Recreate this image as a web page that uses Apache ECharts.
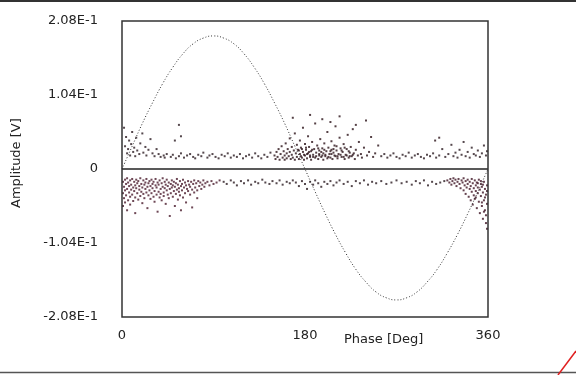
<!DOCTYPE html>
<html>
<head>
<meta charset="utf-8">
<script src="https://cdn.jsdelivr.net/npm/echarts@6/dist/echarts.min.js"></script>
<style>
html,body{margin:0;padding:0;background:#fff;}
#wrap{position:relative;width:576px;height:375px;}
#c,#f{position:absolute;left:0;top:0;width:576px;height:375px;}
#f{pointer-events:none;}
</style>
</head>
<body>
<div id="wrap"><div id="c"></div><div id="f"></div></div>
<script>
// ---- data (phase in degrees, amplitude in V) ----
var xTickLabels = ["0", "180", "360"];
var yTickLabels = ["-2.08E-1", "-1.04E-1", "0", "1.04E-1", "2.08E-1"];

var sinePhase = [0,10,20,30,40,50,60,70,80,90,100,110,120,130,140,150,160,170,180,190,200,210,220,230,240,250,260,270,280,290,300,310,320,330,340,350,360];
var sineValue = [0,0.032,0.064,0.093,0.120,0.143,0.162,0.176,0.184,0.187,0.184,0.176,0.162,0.143,0.120,0.093,0.064,0.032,0,-0.032,-0.063,-0.092,-0.118,-0.141,-0.159,-0.173,-0.181,-0.184,-0.181,-0.173,-0.159,-0.141,-0.118,-0.092,-0.063,-0.032,0];

var posLeft = [[2,0.058],[3,0.032],[4,0.045],[5,0.022],[6,0.028],[7,0.040],[8,0.019],[9,0.035],[10,0.052],[11,0.024],[12,0.030],[13,0.018],[14,0.044],[15,0.026],[17,0.021],[18,0.036],[20,0.050],[21,0.023],[23,0.031],[24,0.019],[26,0.027],[28,0.042],[30,0.022],[32,0.018],[34,0.028],[36,0.021],[38,0.017],[56,0.062],[52,0.040],[58,0.046]];

var posBand = [[41,0.019],[42,0.016],[44,0.021],[48,0.017],[50,0.020],[53,0.015],[56,0.018],[58,0.022],[61,0.016],[64,0.019],[67,0.021],[70,0.017],[72,0.015],[75,0.020],[78,0.018],[80,0.023],[84,0.016],[86,0.019],[89,0.021],[92,0.017],[95,0.015],[98,0.020],[101,0.018],[104,0.022],[107,0.016],[110,0.019],[113,0.017],[116,0.021],[119,0.015],[122,0.018],[125,0.020],[128,0.016],[131,0.022],[134,0.018],[137,0.015],[140,0.020],[143,0.017],[146,0.023],
[255,0.018],[258,0.021],[261,0.016],[264,0.019],[267,0.022],[270,0.017],[273,0.015],[276,0.020],[279,0.018],[282,0.023],[285,0.016],[288,0.019],[291,0.021],[294,0.017],[297,0.015],[300,0.020],[303,0.018],[306,0.022],[309,0.016],[312,0.019],[315,0.028],[318,0.017],[321,0.021],[324,0.034],[326,0.018],[328,0.023],[330,0.016],[332,0.027],[334,0.020],[336,0.038],[338,0.018],[340,0.024],[342,0.016],[344,0.030],[346,0.021],[348,0.019],[350,0.026],[352,0.017],[354,0.022],[356,0.033],[358,0.019],[359,0.025]];

var posCluster = [[150,0.019],[151,0.014],[152,0.024],[153,0.017],[154,0.028],[155,0.013],[156,0.021],[157,0.032],[158,0.016],[159,0.025],[160,0.019],[160,0.013],[161,0.036],[162,0.022],[162,0.015],[163,0.028],[164,0.018],[165,0.043],[165,0.024],[166,0.014],[167,0.031],[167,0.020],[168,0.016],[169,0.026],[170,0.050],[170,0.013],[171,0.022],[172,0.034],[172,0.017],[173,0.027],[174,0.014],[175,0.021],[175,0.040],[176,0.030],[177,0.016],[178,0.024],[178,0.058],[179,0.013],[180,0.019],[180,0.035],[181,0.027],[182,0.015],[183,0.022],[183,0.046],[184,0.031],[185,0.017],[186,0.025],[186,0.013],[187,0.038],[188,0.020],[189,0.028],[190,0.016],[190,0.064],[191,0.023],[192,0.033],[193,0.014],[194,0.026],[194,0.019],[195,0.042],[196,0.017],[197,0.029],[198,0.022],[198,0.013],[199,0.036],[200,0.018],[201,0.025],[202,0.052],[202,0.015],[203,0.030],[204,0.021],[205,0.016],[206,0.027],[206,0.039],[207,0.014],[208,0.023],[209,0.033],[210,0.018],[210,0.060],[211,0.026],[212,0.015],[213,0.021],[214,0.044],[215,0.029],[216,0.017],[217,0.024],[218,0.035],[219,0.014],[220,0.020],[221,0.028],[222,0.048],[223,0.016],[224,0.023],[225,0.031],[226,0.018],[227,0.056],[228,0.022],[229,0.014],[230,0.027],[232,0.019],[233,0.038],[235,0.021],[236,0.016],[238,0.030],[240,0.068],[241,0.019],[243,0.024],[245,0.045],[247,0.017],[249,0.022],[252,0.033],
[176,0.018],[179,0.020],[182,0.021],[185,0.019],[188,0.017],[191,0.018],[194,0.021],[197,0.019],[200,0.020],[203,0.017],[206,0.021],[209,0.019],[212,0.018],[215,0.020],[218,0.017],[221,0.019],[224,0.018],[227,0.020],[174,0.026],[177,0.028],[181,0.030],[184,0.024],[187,0.027],[193,0.029],[196,0.024],[199,0.027],[205,0.025],[208,0.028],[211,0.032],[216,0.026],[219,0.030],[223,0.025],[168,0.072],[185,0.076],[197,0.070],[205,0.066],[214,0.074],[230,0.062],[308,0.040],[312,0.044]];

var negLeft = [[1,-0.018],[1,-0.034],[1,-0.052],[2,-0.025],[2,-0.041],[3,-0.015],[3,-0.030],[3,-0.047],[4,-0.021],[4,-0.037],[5,-0.013],[5,-0.028],[5,-0.058],[6,-0.019],[6,-0.044],[7,-0.024],[7,-0.033],[8,-0.016],[8,-0.039],[8,-0.050],[9,-0.022],[9,-0.029],[10,-0.014],[10,-0.036],[11,-0.026],[11,-0.045],[12,-0.018],[12,-0.031],[13,-0.023],[13,-0.040],[13,-0.062],[14,-0.015],[14,-0.027],[15,-0.034],[15,-0.020],[16,-0.043],[16,-0.017],[17,-0.029],[17,-0.024],[18,-0.038],[18,-0.013],[19,-0.021],[19,-0.032],[20,-0.048],[20,-0.026],[21,-0.016],[21,-0.035],[22,-0.022],[22,-0.041],[23,-0.028],[23,-0.019],[24,-0.033],[24,-0.014],[25,-0.025],[25,-0.055],[26,-0.037],[26,-0.020],[27,-0.030],[27,-0.017],[28,-0.042],[28,-0.024],[29,-0.015],[29,-0.034],[30,-0.027],[30,-0.021],[31,-0.039],[31,-0.018],[32,-0.031],[32,-0.046],[33,-0.023],[33,-0.014],[34,-0.036],[34,-0.026],[35,-0.019],[35,-0.060],[36,-0.032],[36,-0.022],[37,-0.040],[37,-0.016],[38,-0.028],[38,-0.035],[39,-0.020],[39,-0.044],[40,-0.025],[40,-0.013],[41,-0.033],[41,-0.038],[42,-0.018],[42,-0.027],[43,-0.049],[43,-0.022],[44,-0.030],[44,-0.015],[45,-0.036],[45,-0.024],[46,-0.019],[46,-0.041],[47,-0.028],[47,-0.066],[48,-0.021],[48,-0.034],[49,-0.016],[49,-0.026],[50,-0.039],[50,-0.023],[51,-0.031],[51,-0.018],[52,-0.025],[52,-0.052],[53,-0.035],[53,-0.020],[54,-0.029],[54,-0.014],[55,-0.022],[55,-0.043],[56,-0.027],[56,-0.032],[57,-0.017],[57,-0.037],[58,-0.024],[58,-0.058],[59,-0.021],[59,-0.030],[60,-0.015],[60,-0.040],[61,-0.026],[62,-0.019],[62,-0.034],[63,-0.023],[63,-0.047],[64,-0.028],[65,-0.017],[65,-0.031],[66,-0.022],[67,-0.036],[67,-0.025],[68,-0.018],[69,-0.029],[69,-0.054],[70,-0.021],[71,-0.033],[71,-0.016],[72,-0.026],[73,-0.020],[74,-0.030],[74,-0.041],[75,-0.017],[76,-0.024],[77,-0.019],[78,-0.028],[79,-0.022],[80,-0.016],[81,-0.025],[82,-0.020],[84,-0.018],[86,-0.023],[88,-0.017],[90,-0.021],[93,-0.019],[96,-0.016]];

var negBand = [[100,-0.018],[103,-0.021],[107,-0.016],[110,-0.019],[113,-0.023],[117,-0.017],[120,-0.020],[124,-0.016],[127,-0.022],[131,-0.018],[134,-0.020],[138,-0.015],[141,-0.019],[145,-0.021],[148,-0.017],[152,-0.020],[155,-0.016],[158,-0.022],[162,-0.018],[165,-0.020],[168,-0.016],[171,-0.019],[174,-0.024],[177,-0.017],[180,-0.021],[182,-0.028],[185,-0.018],[188,-0.022],[190,-0.016],[193,-0.020],[196,-0.025],[199,-0.018],[202,-0.021],[205,-0.017],[208,-0.023],[211,-0.019],[214,-0.016],[218,-0.021],[222,-0.018],[226,-0.024],[230,-0.017],[234,-0.020],[238,-0.016],[242,-0.022],[246,-0.018],[250,-0.020],[255,-0.017],[260,-0.021],[265,-0.019],[270,-0.016],[275,-0.020],[280,-0.018],[285,-0.022],[289,-0.017],[293,-0.020],[297,-0.016],[301,-0.023],[305,-0.018],[309,-0.021],[313,-0.019],[317,-0.017]];

var negRight = [[320,-0.016],[322,-0.019],[323,-0.014],[324,-0.022],[325,-0.017],[326,-0.013],[327,-0.020],[328,-0.015],[329,-0.024],[330,-0.018],[331,-0.014],[332,-0.021],[333,-0.027],[334,-0.016],[335,-0.019],[336,-0.013],[336,-0.030],[337,-0.023],[338,-0.017],[338,-0.035],[339,-0.026],[340,-0.015],[340,-0.021],[341,-0.039],[342,-0.018],[342,-0.028],[343,-0.024],[343,-0.044],[344,-0.014],[344,-0.032],[345,-0.020],[345,-0.050],[346,-0.027],[346,-0.037],[347,-0.016],[347,-0.042],[348,-0.023],[348,-0.031],[349,-0.019],[349,-0.055],[350,-0.034],[350,-0.026],[351,-0.046],[351,-0.015],[352,-0.029],[352,-0.062],[353,-0.021],[353,-0.038],[354,-0.052],[354,-0.025],[355,-0.033],[355,-0.070],[356,-0.018],[356,-0.044],[357,-0.058],[357,-0.028],[358,-0.036],[358,-0.076],[359,-0.023],[359,-0.049],[359,-0.084],[358,-0.065],[356,-0.060],[354,-0.047],[357,-0.040],[359,-0.031],[355,-0.022],[353,-0.017],[350,-0.020],[348,-0.040]];

// ---- main chart ----
var txt = '#222';
var fontName = 'DejaVu Sans';
var gridBox = {left: 122, top: 21, right: 88, bottom: 58};
function dots(data, color) {
  return {type: 'scatter', data: data, symbol: 'rect', symbolSize: 2, itemStyle: {color: color}, silent: true, z: 3};
}
var sineData = sinePhase.map(function (p, i) { return [p, sineValue[i]]; });

var chart = echarts.init(document.getElementById('c'));
chart.setOption({
  animation: false,
  backgroundColor: '#fff',
  grid: gridBox,
  xAxis: {
    type: 'value', min: 0, max: 360, interval: 180,
    axisLine: {show: false}, axisTick: {show: false}, splitLine: {show: false},
    axisLabel: {color: txt, fontFamily: fontName, fontSize: 13, margin: 12,
      formatter: function (v) { return xTickLabels[Math.round(v / 180)]; }}
  },
  yAxis: {
    type: 'value', min: -0.208, max: 0.208, interval: 0.104,
    axisLine: {show: false}, axisTick: {show: false}, splitLine: {show: false},
    axisLabel: {color: txt, fontFamily: fontName, fontSize: 13, margin: 24,
      formatter: function (v) { return yTickLabels[Math.round(v / 0.104) + 2]; }}
  },
  series: [
    {type: 'line', data: sineData, smooth: true, symbol: 'none', silent: true, z: 4,
      lineStyle: {color: '#333', width: 1, type: [1, 2]},
      markLine: {silent: true, symbol: 'none', label: {show: false},
        lineStyle: {color: '#222', width: 1.5, type: 'solid'}, data: [{yAxis: 0}]}},
    dots(posLeft, '#2a1a20'),
    dots(posBand, '#2a1a20'),
    dots(posCluster, '#2a1218'),
    dots(negLeft, '#4a1a2c'),
    dots(negBand, '#2a1a20'),
    dots(negRight, '#3e1424')
  ],
  graphic: [
    {type: 'line', shape: {x1: 0, y1: 1, x2: 576, y2: 1}, style: {stroke: '#333', lineWidth: 2}},
    {type: 'line', shape: {x1: 0, y1: 372.5, x2: 576, y2: 372.5}, style: {stroke: '#555', lineWidth: 1.5}},
    {type: 'line', shape: {x1: 558, y1: 375, x2: 576, y2: 351}, style: {stroke: '#e02020', lineWidth: 1.5}},
    {type: 'text', left: 344, top: 333, style: {text: 'Phase [Deg]', fill: txt, font: '13px "DejaVu Sans"'}},
    {type: 'text', x: 10, y: 208, rotation: Math.PI / 2, style: {text: 'Amplitude [V]', fill: txt, font: '13px "DejaVu Sans"'}}
  ]
});

// ---- plot frame, drawn by a transparent overlay instance with the same grid ----
var frameChart = echarts.init(document.getElementById('f'));
frameChart.setOption({
  animation: false,
  backgroundColor: 'transparent',
  grid: {left: gridBox.left, top: gridBox.top, right: gridBox.right, bottom: gridBox.bottom,
    show: true, borderColor: '#333', borderWidth: 1.5, backgroundColor: 'transparent'},
  xAxis: {type: 'value', min: 0, max: 360, show: false},
  yAxis: {type: 'value', min: -0.208, max: 0.208, show: false},
  series: []
});
</script>
</body>
</html>
